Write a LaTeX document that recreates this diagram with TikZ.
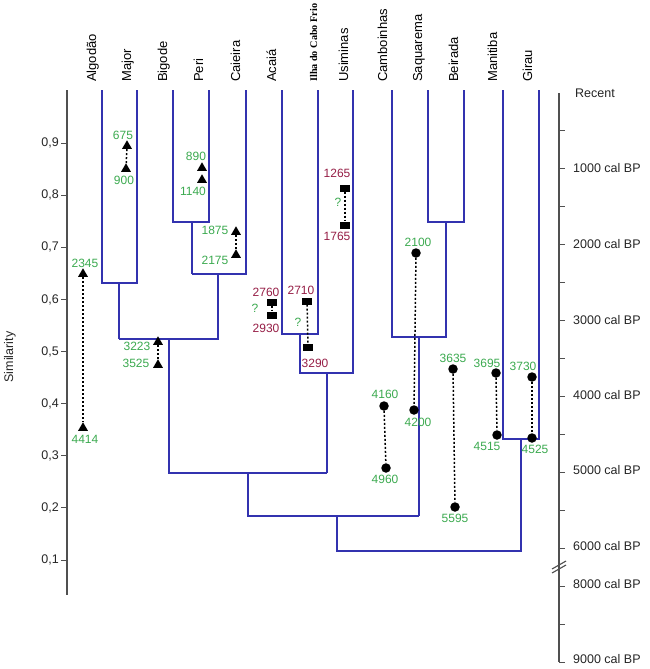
\documentclass[tikz,border=0pt]{standalone}
\usepackage{fontspec}
\setmainfont{Liberation Sans}
\newfontfamily\ilhafont{Liberation Serif}
\usetikzlibrary{shapes.geometric}
\definecolor{dendro}{RGB}{50,50,175}
\definecolor{dategreen}{RGB}{60,170,80}
\definecolor{datered}{RGB}{150,30,70}
\definecolor{axisgray}{RGB}{80,80,80}
\begin{document}
\begin{tikzpicture}[x=1pt,y=-1pt,
  dline/.style={dendro,line width=1.1pt},
  axisline/.style={axisgray,line width=1.1pt},
  tickline/.style={axisgray,line width=0.9pt},
  tri/.style={regular polygon,regular polygon sides=3,fill=black,draw=none,inner sep=0pt,minimum size=11.5pt},
  dot/.style={circle,fill=black,draw=none,inner sep=0pt,minimum size=9.5pt},
  sq/.style={rectangle,fill=black,draw=none,inner sep=0pt,minimum width=10pt,minimum height=7pt},
  link/.style={black,line width=1.5pt,dash pattern=on 2pt off 2pt},
  glab/.style={text=dategreen,inner sep=0pt,font=\fontsize{12}{14}\selectfont},
  rlab/.style={text=datered,inner sep=0pt,font=\fontsize{12}{14}\selectfont},
  toplab/.style={rotate=90,anchor=base west,inner sep=0pt,font=\fontsize{13}{15}\selectfont},
  axlab/.style={inner sep=0pt,font=\fontsize{12.5}{15}\selectfont,text=black!85},
]
\useasboundingbox[fill=white] (0,0) rectangle (650,669);

% ---- column labels
\node[toplab] (lAlg) at (96,82) {Algodão};
\node[toplab] (lMaj) at (131,82) {Major};
\node[toplab] (lBig) at (167,82) {Bigode};
\node[toplab] (lPer) at (203,82) {Peri};
\node[toplab] (lCai) at (240,82) {Caieira};
\node[toplab] (lAca) at (276,82) {Acaiá};
\node[toplab,font=\ilhafont\bfseries\fontsize{10.2}{12}\selectfont] (lIlh) at (317,82) {Ilha do Cabo Frio};
\node[toplab] (lUsi) at (348,82) {Usiminas};
\node[toplab] (lCam) at (387,82) {Camboinhas};
\node[toplab] (lSaq) at (422,82) {Saquarema};
\node[toplab] (lBei) at (458,82) {Beirada};
\node[toplab] (lMan) at (497,82) {Manitiba};
\node[toplab] (lGir) at (532,82) {Girau};

% ---- left axis
\draw[axisline] (67,90) -- (67,595);
\foreach \s/\t in {1/{0,1},2/{0,2},3/{0,3},4/{0,4},5/{0,5},6/{0,6},7/{0,7},8/{0,8},9/{0,9}}{
  \draw[tickline] (61,{560-(\s-1)*52.1}) -- (67,{560-(\s-1)*52.1});
  \node[axlab,anchor=east] (sim\s) at (59,{560-(\s-1)*52.1}) {\t};
}
\node[axlab,rotate=90] (simlab) at (10,357) {Similarity};

% ---- right axis
\draw[axisline] (559,93) -- (559,662);
\foreach \k in {1,...,12}{
  \draw[tickline] (559,{92+38*\k}) -- (565,{92+38*\k});
}
\foreach \y in {586,624,662}{
  \draw[tickline] (559,\y) -- (565,\y);
}
\draw[axisline] (552,569) -- (566,561);
\draw[axisline] (552,573) -- (566,565);
\node[axlab,anchor=west] (rRec) at (575,93) {Recent};
\node[axlab,anchor=west] (r1) at (573,168) {1000 cal BP};
\node[axlab,anchor=west] (r2) at (573,244) {2000 cal BP};
\node[axlab,anchor=west] (r3) at (573,320) {3000 cal BP};
\node[axlab,anchor=west] (r4) at (573,395) {4000 cal BP};
\node[axlab,anchor=west] (r5) at (573,470) {5000 cal BP};
\node[axlab,anchor=west] (r6) at (573,546) {6000 cal BP};
\node[axlab,anchor=west] (r8) at (573,584) {8000 cal BP};
\node[axlab,anchor=west] (r9) at (573,659) {9000 cal BP};

% ---- dendrogram
\draw[dline] (102,90) -- (102,283) -- (137,283) -- (137,90);
\draw[dline] (119,283) -- (119,339);
\draw[dline] (173,90) -- (173,222) -- (209,222) -- (209,90);
\draw[dline] (192,222) -- (192,274);
\draw[dline] (246,90) -- (246,274) -- (192,274);
\draw[dline] (218,274) -- (218,339) -- (119,339);
\draw[dline] (169,339) -- (169,473) -- (327,473);
\draw[dline] (282,90) -- (282,334) -- (318,334) -- (318,90);
\draw[dline] (300,334) -- (300,373) -- (353,373) -- (353,90);
\draw[dline] (327,373) -- (327,473);
\draw[dline] (248,473) -- (248,516) -- (419,516);
\draw[dline] (428,90) -- (428,222) -- (464,222) -- (464,90);
\draw[dline] (446,222) -- (446,337) -- (392,337) -- (392,90);
\draw[dline] (419,337) -- (419,516);
\draw[dline] (337,516) -- (337,551) -- (521,551) -- (521,439);
\draw[dline] (503,90) -- (503,439) -- (539,439) -- (539,90);

% ---- triangles (green dates)
\node[tri] (a1) at (83,274) {};
\node[tri] (a2) at (83,428) {};
\draw[link] (a1) -- (a2);
\node[glab] (ta1) at (85,263) {2345};
\node[glab] (ta2) at (85,439) {4414};

\node[tri] (m1) at (127,146) {};
\node[tri] (m2) at (126,169) {};
\draw[link] (m1) -- (m2);
\node[glab] (tm1) at (123,135) {675};
\node[glab] (tm2) at (124,180) {900};

\node[tri] (p1) at (202,168) {};
\node[tri] (p2) at (202,180) {};
\node[glab] (tp1) at (196,156) {890};
\node[glab] (tp2) at (193,191) {1140};

\node[tri] (c1) at (236,232) {};
\node[tri] (c2) at (236,255) {};
\draw[link] (c1) -- (c2);
\node[glab] (tc1) at (215,230) {1875};
\node[glab] (tc2) at (215,260) {2175};

\node[tri] (b1) at (158,342) {};
\node[tri] (b2) at (158,365) {};
\draw[link] (b1) -- (b2);
\node[glab] (tb1) at (137,346) {3223};
\node[glab] (tb2) at (136,363) {3525};

% ---- squares (red dates)
\node[sq] (ac1) at (272,302) {};
\node[sq] (ac2) at (272,315) {};
\draw[link] (ac1) -- (ac2);
\node[rlab] (tac1) at (266,292) {2760};
\node[rlab] (tac2) at (266,328) {2930};
\node[glab] (qac) at (255,308) {?};

\node[sq] (il1) at (307,301) {};
\node[sq] (il2) at (308,347) {};
\draw[link] (il1) -- (il2);
\node[rlab] (til1) at (301,290) {2710};
\node[rlab] (til2) at (315,363) {3290};
\node[glab] (qil) at (298,322) {?};

\node[sq] (us1) at (345,188) {};
\node[sq] (us2) at (345,225) {};
\draw[link] (us1) -- (us2);
\node[rlab] (tus1) at (337,173) {1265};
\node[rlab] (tus2) at (337,236) {1765};
\node[glab] (qus) at (338,202) {?};

% ---- circles (green dates)
\node[dot] (sa1) at (416,253) {};
\node[dot] (sa2) at (414,410) {};
\draw[link] (sa1) -- (sa2);
\node[glab] (tsa1) at (418,242) {2100};
\node[glab] (tsa2) at (418,422) {4200};

\node[dot] (ca1) at (384,406) {};
\node[dot] (ca2) at (386,468) {};
\draw[link] (ca1) -- (ca2);
\node[glab] (tca1) at (385,394) {4160};
\node[glab] (tca2) at (385,479) {4960};

\node[dot] (be1) at (453,369) {};
\node[dot] (be2) at (455,507) {};
\draw[link] (be1) -- (be2);
\node[glab] (tbe1) at (453,358) {3635};
\node[glab] (tbe2) at (455,518) {5595};

\node[dot] (ma1) at (496,373) {};
\node[dot] (ma2) at (497,435) {};
\draw[link] (ma1) -- (ma2);
\node[glab] (tma1) at (487,363) {3695};
\node[glab] (tma2) at (487,446) {4515};

\node[dot] (gi1) at (532,377) {};
\node[dot] (gi2) at (532,438) {};
\draw[link] (gi1) -- (gi2);
\node[glab] (tgi1) at (523,366) {3730};
\node[glab] (tgi2) at (535,449) {4525};
\end{tikzpicture}
\end{document}
